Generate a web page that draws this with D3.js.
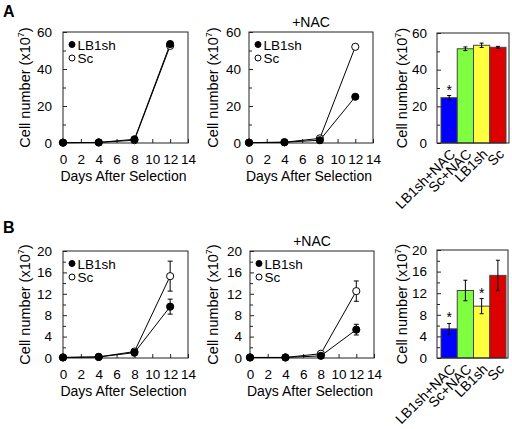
<!DOCTYPE html>
<html><head><meta charset="utf-8">
<script src="https://cdn.jsdelivr.net/npm/d3@7"></script>
<style>body{margin:0;background:#fff}svg{display:block;font-family:"Liberation Sans",Arial,sans-serif}</style>
</head><body><svg width="512" height="429"></svg>
<script>
// ---- data ----
const days = [0, 4, 8, 12];
const xTicks = [0, 2, 4, 6, 8, 10, 12, 14];
const seriesNames = ["LB1sh", "Sc"];
const groups = ["LB1sh+NAC", "Sc+NAC", "LB1sh", "Sc"];
const groupColors = ["#0000ff", "#80ff40", "#ffff40", "#dd0000"];

const A_LB1sh = [0.2, 0.3, 2.0, 53.5];
const A_Sc = [0.2, 0.3, 1.5, 52.5];
const A_LB1sh_NAC = [0.2, 0.4, 1.5, 25.0];
const A_Sc_NAC = [0.2, 0.4, 2.5, 52.0];
const A_zeroErr = [0, 0, 0, 0];
const A_bar = [24.7, 51.4, 53.3, 52.2];
const A_barErr = [1.2, 1.0, 1.2, 0.5];
const A_star = [true, false, false, false];
const A_yTicks = [0, 20, 40, 60];
const A_yMinor = [10, 30, 50];

const B_LB1sh = [0.1, 0.2, 1.0, 9.6];
const B_LB1sh_err = [0, 0.05, 0.4, 1.4];
const B_Sc = [0.1, 0.2, 1.2, 15.3];
const B_Sc_err = [0, 0.05, 0.3, 2.8];
const B_LB1sh_NAC = [0.1, 0.1, 0.4, 5.3];
const B_LB1sh_NAC_err = [0, 0, 0.1, 1.0];
const B_Sc_NAC = [0.1, 0.1, 0.8, 12.5];
const B_Sc_NAC_err = [0, 0, 0.2, 1.9];
const B_bar = [5.4, 12.5, 9.6, 15.3];
const B_barErr = [1.0, 1.9, 1.4, 2.8];
const B_star = [true, false, true, false];
const B_yTicks = [0, 4, 8, 12, 16, 20];
const B_yMinor = [2, 6, 10, 14, 18];

const svg = d3.select("svg");
const FS = 13.5;

function yTitle(g, x, yc) {
  const t = g.append("text").attr("transform", `translate(${x},${yc}) rotate(-90)`)
    .attr("text-anchor", "middle").attr("font-size", 14.5).attr("fill", "#000");
  t.append("tspan").text("Cell number (x10");
  t.append("tspan").attr("font-size", 9).attr("dy", -6).text("7");
  t.append("tspan").attr("dy", 6).text(")");
}

function styleAxis(ax) {
  ax.attr("font-family", null).attr("font-size", null);
  ax.select(".domain").remove();
  ax.selectAll("text").attr("font-size", FS).attr("fill", "#000");
  ax.selectAll("line").attr("stroke", "#222");
}

function yAxes(g, y, x0, ticks, minor, gap) {
  const ax = g.append("g").attr("transform", `translate(${x0},0)`)
    .call(d3.axisLeft(y).tickValues(ticks).tickSize(-4).tickSizeOuter(0).tickPadding(gap));
  styleAxis(ax);
  const mi = g.append("g").attr("transform", `translate(${x0},0)`)
    .call(d3.axisLeft(y).tickValues(minor).tickSize(-3).tickSizeOuter(0).tickFormat(""));
  styleAxis(mi);
}

function lineChart(o) {
  const g = svg.append("g");
  const x = d3.scaleLinear().domain([0, 14]).range([o.x0, o.x1]);
  const y = d3.scaleLinear().domain([0, o.ymax]).range([o.yb, o.yt]);
  yAxes(g, y, o.x0, o.yTicks, o.yMinor, o.gap);
  const xa = g.append("g").attr("transform", `translate(0,${o.yb})`)
    .call(d3.axisBottom(x).tickValues(xTicks).tickSize(-4).tickSizeOuter(0).tickPadding(11));
  styleAxis(xa);
  g.append("rect").attr("x", o.x0).attr("y", o.yt).attr("width", o.x1 - o.x0).attr("height", o.yb - o.yt)
    .attr("fill", "none").attr("stroke", "#222").attr("stroke-width", 1);
  g.append("text").attr("x", (o.x0 + o.x1) / 2 - 2).attr("y", o.yb + 38).attr("text-anchor", "middle")
    .attr("font-size", 14).text("Days After Selection");
  yTitle(g, o.titleX, (o.yt + o.yb) / 2);
  if (o.title) g.append("text").attr("x", (o.x0 + o.x1) / 2).attr("y", o.yt - 5)
    .attr("text-anchor", "middle").attr("font-size", 14).text(o.title);
  const line = d3.line().x((d, i) => x(days[i])).y(d => y(d));
  const series = [{v: o.sc, e: o.scErr, fill: "#fff"}, {v: o.lb, e: o.lbErr, fill: "#000"}];
  series.forEach(s => {
    g.append("path").attr("d", line(s.v)).attr("fill", "none").attr("stroke", "#000").attr("stroke-width", 1);
  });
  series.forEach(s => {
    s.v.forEach((v, i) => {
      const e = s.e[i];
      if (e > 0.2) {
        const cx = x(days[i]);
        g.append("line").attr("x1", cx).attr("x2", cx).attr("y1", y(v - e)).attr("y2", y(v + e)).attr("stroke", "#000");
        [v - e, v + e].forEach(w => g.append("line").attr("x1", cx - 2.5).attr("x2", cx + 2.5)
          .attr("y1", y(w)).attr("y2", y(w)).attr("stroke", "#000"));
      }
    });
    g.selectAll(null).data(s.v).enter().append("circle")
      .attr("cx", (d, i) => x(days[i])).attr("cy", d => y(d)).attr("r", 3.6)
      .attr("fill", s.fill).attr("stroke", "#000").attr("stroke-width", 1);
  });
  // legend
  const lx = o.x0 + 9, ly = o.yt + 12.5;
  [["#000", seriesNames[0]], ["#fff", seriesNames[1]]].forEach((d, i) => {
    g.append("circle").attr("cx", lx).attr("cy", ly + i * 13.5).attr("r", 3)
      .attr("fill", d[0]).attr("stroke", "#000");
    g.append("text").attr("x", lx + 5.5).attr("y", ly + i * 13.5 + 5).attr("font-size", 13.5).text(d[1]);
  });
}

function barChart(o) {
  const g = svg.append("g");
  const x = d3.scaleBand().domain(groups).range([o.bx0, o.bx1]).padding(0);
  const y = d3.scaleLinear().domain([0, o.ymax]).range([o.yb, o.yt]);
  yAxes(g, y, o.x0, o.yTicks, o.yMinor, o.gap);
  g.selectAll(null).data(o.v).enter().append("rect")
    .attr("x", (d, i) => x(groups[i])).attr("width", x.bandwidth())
    .attr("y", d => y(d)).attr("height", d => o.yb - y(d))
    .attr("fill", (d, i) => groupColors[i]).attr("stroke", "#444").attr("stroke-width", 1);
  o.v.forEach((v, i) => {
    const cx = x(groups[i]) + x.bandwidth() / 2, e = o.e[i];
    g.append("line").attr("x1", cx).attr("x2", cx).attr("y1", y(v - e)).attr("y2", y(v + e)).attr("stroke", "#000");
    [v - e, v + e].forEach(w => g.append("line").attr("x1", cx - 2).attr("x2", cx + 2)
      .attr("y1", y(w)).attr("y2", y(w)).attr("stroke", "#000"));
    if (o.star[i]) g.append("text").attr("x", cx).attr("y", y(v + e) - 1).attr("text-anchor", "middle")
      .attr("font-size", 14).text("*");
    g.append("text").attr("transform", `translate(${cx + 7},${o.yb + 12}) rotate(-45)`)
      .attr("text-anchor", "end").attr("font-size", 14).text(groups[i]);
  });
  g.append("rect").attr("x", o.x0).attr("y", o.yt).attr("width", o.x1 - o.x0).attr("height", o.yb - o.yt)
    .attr("fill", "none").attr("stroke", "#222");
  yTitle(g, o.titleX, (o.yt + o.yb) / 2);
}

lineChart({x0: 63, x1: 188, yt: 32, yb: 143, ymax: 60, yTicks: A_yTicks, yMinor: A_yMinor, gap: 11, titleX: 30,
  lb: A_LB1sh, lbErr: A_zeroErr, sc: A_Sc, scErr: A_zeroErr});
lineChart({x0: 249, x1: 373, yt: 32, yb: 143, ymax: 60, yTicks: A_yTicks, yMinor: A_yMinor, gap: 8, titleX: 218,
  lb: A_LB1sh_NAC, lbErr: A_zeroErr, sc: A_Sc_NAC, scErr: A_zeroErr, title: "+NAC"});
barChart({x0: 437, x1: 509, bx0: 441, bx1: 506, yt: 33, yb: 143, ymax: 60, yTicks: A_yTicks, yMinor: A_yMinor, gap: 10,
  titleX: 407, v: A_bar, e: A_barErr, star: A_star});

lineChart({x0: 63, x1: 188, yt: 251, yb: 358, ymax: 20, yTicks: B_yTicks, yMinor: B_yMinor, gap: 11, titleX: 30,
  lb: B_LB1sh, lbErr: B_LB1sh_err, sc: B_Sc, scErr: B_Sc_err});
lineChart({x0: 250, x1: 374, yt: 251, yb: 358, ymax: 20, yTicks: B_yTicks, yMinor: B_yMinor, gap: 8, titleX: 218,
  lb: B_LB1sh_NAC, lbErr: B_LB1sh_NAC_err, sc: B_Sc_NAC, scErr: B_Sc_NAC_err, title: "+NAC"});
barChart({x0: 437, x1: 508, bx0: 441, bx1: 506, yt: 250, yb: 358, ymax: 20, yTicks: B_yTicks, yMinor: B_yMinor, gap: 10,
  titleX: 407, v: B_bar, e: B_barErr, star: B_star});

svg.append("text").attr("x", 3).attr("y", 17).attr("font-size", 16).attr("font-weight", "bold").text("A");
svg.append("text").attr("x", 3).attr("y", 233).attr("font-size", 16).attr("font-weight", "bold").text("B");
</script></body></html>
